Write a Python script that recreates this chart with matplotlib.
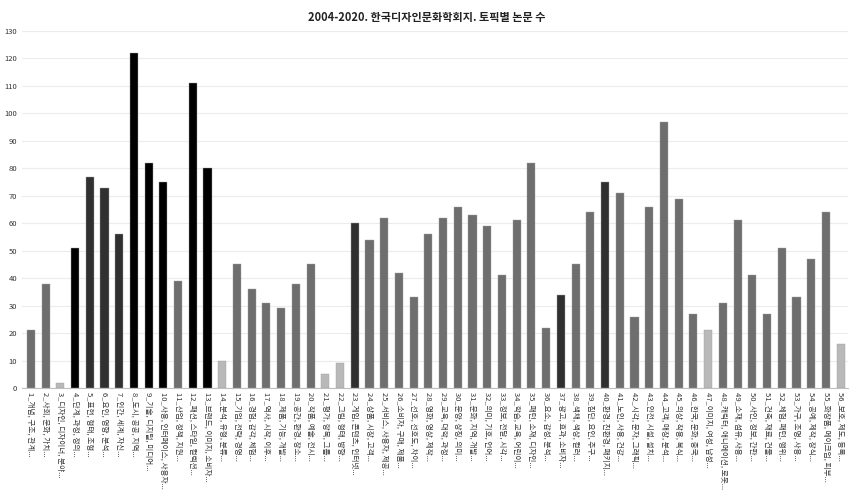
import matplotlib
matplotlib.use("Agg")
import matplotlib.pyplot as plt
import numpy as np

plt.rcParams['font.family'] = ['Noto Sans CJK KR', 'DejaVu Sans']

topics = [
    "1_개념, 구조, 관계...", "2_사회, 문화, 가치...", "3_디자인, 디자이너, 분야...",
    "4_단계, 과정, 정의...", "5_표현, 형태, 조형...", "6_요인, 영향, 분석...",
    "7_인간, 세계, 자신...", "8_도시, 공공, 지역...", "9_기술, 디지털, 미디어...",
    "10_사용, 인터페이스, 사용자...", "11_산업, 정책, 지원...", "12_패션, 스타일, 컬렉션...",
    "13_브랜드, 이미지, 소비자...", "14_분석, 유형, 분류...", "15_기업, 전략, 경영...",
    "16_경험, 감각, 체험...", "17_역사, 시작, 이후...", "18_제품, 기능, 개발...",
    "19_공간, 환경, 장소...", "20_작품, 예술, 전시...", "21_평가, 항목, 그룹...",
    "22_그림, 형태, 방향...", "23_게임, 콘텐츠, 인터넷...", "24_상품, 시장, 고객...",
    "25_서비스, 사용자, 제공...", "26_소비자, 구매, 제품...", "27_선호, 선호도, 차이...",
    "28_영화, 영상, 제작...", "29_교육, 대학, 과정...", "30_문양, 상징, 의미...",
    "31_문화, 지역, 개발...", "32_의미, 기호, 언어...", "33_정보, 전달, 시각...",
    "34_학습, 교육, 어린이...", "35_패턴, 소재, 디자인...", "36_요소, 감성, 분석...",
    "37_광고, 효과, 소비자...", "38_색채, 색상, 컬러...", "39_집단, 요인, 추구...",
    "40_환경, 친환경, 패키지...", "41_노인, 사용, 건강...", "42_시각, 문자, 그래픽...",
    "43_안전, 시설, 설치...", "44_고객, 매장, 분석...", "45_의상, 착용, 복식...",
    "46_한국, 문화, 중국...", "47_이미지, 여성, 남성...", "48_캐릭터, 애니메이션, 로봇...",
    "49_소재, 섬유, 사용...", "50_사인, 정보, 간판...", "51_건축, 재료, 건물...",
    "52_체험, 패턴, 행위...", "53_가구, 조명, 사용...", "54_공예, 제작, 장식...",
    "55_화장품, 메이크업, 피부...", "56_보호, 제도, 등록...",
]

counts = [21, 38, 2, 51, 77, 73, 56, 122, 82, 75,
          39, 111, 80, 10, 45, 36, 31, 29, 38, 45,
          5, 9, 60, 54, 62, 42, 33, 56, 62, 66,
          63, 59, 41, 61, 82, 22, 34, 45, 64, 75,
          71, 26, 66, 97, 69, 27, 21, 31, 61, 41,
          27, 51, 33, 47, 64, 16]

# shade group per topic: 0 = gray, 1 = light, 2 = dark, 3 = black
groups = [0, 0, 1, 3, 2, 2, 2, 3, 3, 3,
          0, 3, 3, 1, 0, 0, 0, 0, 0, 0,
          1, 1, 2, 0, 0, 0, 0, 0, 0, 0,
          0, 0, 0, 0, 0, 0, 2, 0, 0, 2,
          0, 0, 0, 0, 0, 0, 1, 0, 0, 0,
          0, 0, 0, 0, 0, 1]

shades = {0: "#6e6e6e", 1: "#b9b9b9", 2: "#303030", 3: "#000000"}
colors = [shades[g] for g in groups]

x = np.arange(1, len(counts) + 1)

fig = plt.figure(figsize=(8.54, 4.91), dpi=100)
ax = fig.add_axes([22 / 854, 1 - 388 / 491, 826 / 854, 357 / 491])

ax.bar(x, counts, width=0.55, color=colors, edgecolor="#a0a0a0", linewidth=0.3, zorder=3)

ax.set_ylim(0, 130)
ax.set_xlim(0.4, 56.5)
ax.set_yticks(range(0, 131, 10))
ax.yaxis.grid(True, color="#ececec", linewidth=0.8, zorder=0)
ax.set_xticks(x)
ax.set_xticklabels(topics, rotation=270, fontsize=5.5, va="top", ha="center")
ax.tick_params(axis="both", length=0, labelsize=5.5, colors="#333333")
ax.tick_params(axis="x", pad=3)

for s in ["top", "right", "left"]:
    ax.spines[s].set_visible(False)
ax.spines["bottom"].set_color("#bfbfbf")
ax.spines["bottom"].set_linewidth(0.8)

fig.suptitle("2004-2020. 한국디자인문화학회지. 토픽별 논문 수", fontsize=8,
             fontweight="bold", y=0.978, x=0.5, color="#222222")

fig.savefig("out.png", dpi=100, facecolor="white")
